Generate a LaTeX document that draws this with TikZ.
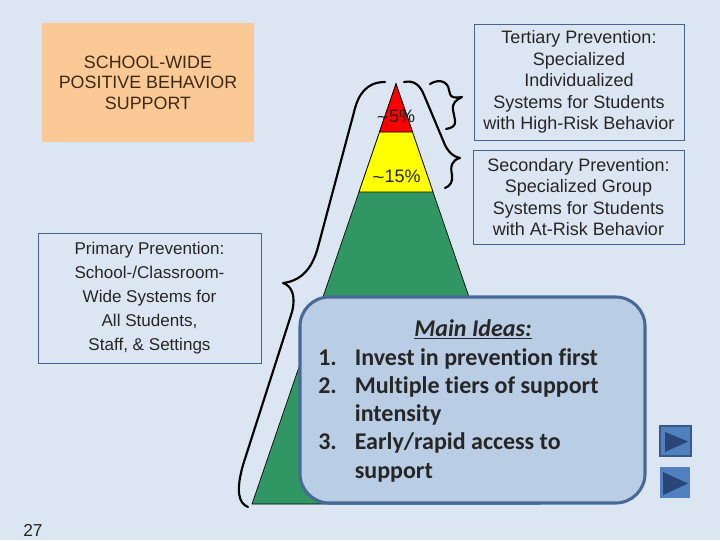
\documentclass[tikz,border=0pt]{standalone}
\usepackage{fontspec}
\setmainfont{Liberation Sans}
\newfontfamily\calib[Ligatures=CommonOff]{Carlito}
\definecolor{bg}{RGB}{220,230,242}
\definecolor{boxline}{RGB}{70,100,145}
\definecolor{txt}{RGB}{38,38,38}
\definecolor{orangebox}{RGB}{251,201,150}
\definecolor{orangetxt}{RGB}{60,42,20}
\definecolor{pgreen}{RGB}{48,150,100}
\definecolor{pred}{RGB}{255,0,0}
\definecolor{pyellow}{RGB}{255,255,0}
\definecolor{mainfill}{RGB}{185,205,229}
\definecolor{mainline}{RGB}{70,105,150}
\definecolor{navfill}{RGB}{80,128,190}
\definecolor{navborder}{RGB}{55,90,140}
\definecolor{navdark}{RGB}{40,70,120}
\newcommand{\midtilde}{\raisebox{-0.12ex}{\scalebox{1.15}[1]{\textasciitilde}}}
\begin{document}
\begin{tikzpicture}[x=0.75pt,y=-0.75pt,
  infobox/.style={draw=boxline, line width=0.75pt, fill=bg, align=center, text=txt, inner sep=0pt},
  bracepath/.style={draw=black, line width=1.6pt, line cap=round, line join=round},
  tier/.style={draw=black, line width=0.5pt},
  pct/.style={text=txt!90!black, font=\fontsize{13.5}{16}\selectfont, inner sep=0pt}]
\fill[bg] (0,0) rectangle (720,540);
\useasboundingbox (0,0) rectangle (720,540);

% header box
\node[fill=orangebox, minimum width=159pt, minimum height=89.25pt, align=center, text=orangetxt,
  font=\fontsize{13.4}{15.4}\selectfont] (swpbs) at (148,82.5) {SCHOOL-WIDE\\POSITIVE BEHAVIOR\\SUPPORT};

% primary box
\node[infobox, minimum width=167.25pt, minimum height=97.5pt, font=\fontsize{12.8}{18}\selectfont]
  (primary) at (149.5,298) {Primary Prevention:\\School-/Classroom-\\Wide Systems for\\All Students,\\Staff, \& Settings};

% tertiary and secondary boxes
\node[infobox, minimum width=157.5pt, minimum height=87pt, font=\fontsize{13.5}{16.1}\selectfont]
  (tertiary) at (579,82) {Tertiary Prevention:\\Specialized\\Individualized\\Systems for Students\\with High-Risk Behavior};
\node[infobox, minimum width=158.25pt, minimum height=70.5pt, font=\fontsize{13.5}{16.1}\selectfont]
  (secondary) at (578.5,197) {Secondary Prevention:\\Specialized Group\\Systems for Students\\with At-Risk Behavior};

% pyramid
\coordinate (apex) at (396,84);
\filldraw[tier, fill=pgreen] (apex) -- (252,504) -- (540,504) -- cycle;
\filldraw[tier, fill=pyellow] (apex) -- (359,192) -- (433,192) -- cycle;
\filldraw[tier, fill=pred] (apex) -- (379.5,132) -- (412.5,132) -- cycle;
\node[pct] (p5) at (396,117) {\midtilde5\%};
\node[pct] (p15) at (396.5,177) {\midtilde15\%};

% braces
\path[bracepath] (385,82) .. controls (366,82) and (358,95) .. (354,112) -- (318,247)
  .. controls (312,270) and (300,281) .. (283,283)
  .. controls (292,286) and (296,296) .. (292,312) -- (243,465)
  .. controls (236,490) and (238,503) .. (248,507);
\path[bracepath] (404,82) .. controls (414,80) and (420,85) .. (424,95) -- (445,145)
  .. controls (449,153) and (454,157) .. (460,158)
  .. controls (452,160) and (450,166) .. (452,175)
  .. controls (453,182) and (450,186) .. (445,188);
\path[bracepath] (430,84) .. controls (440,78) and (448,82) .. (449,90) -- (450,94)
  .. controls (451,98) and (456,98) .. (462,97)
  .. controls (456,100) and (452,103) .. (453,110) -- (455,120)
  .. controls (456,126) and (452,128) .. (446,129);

% main ideas box
\node[draw=mainline, fill=mainfill, line width=2.3pt, rounded corners=22pt,
  minimum width=258.75pt, minimum height=154.5pt] (mainbox) at (472.5,400) {};
\node[anchor=base, inner sep=0pt, text=txt, font=\calib\bfseries\itshape\fontsize{18}{21.2}\selectfont]
  (title) at (473,336) {\underline{Main Ideas:}};
\node[anchor=base west, inner sep=0pt, text=txt, font=\calib\bfseries\fontsize{18}{21.2}\selectfont]
  (ideas) at (318,365) {\begin{tabular}[t]{@{}r@{\hspace{13.5pt}}l@{}}
  1. & Invest in prevention first\\
  2. & Multiple tiers of support\\
     & intensity\\
  3. & Early/rapid access to\\
     & support
  \end{tabular}};

% nav buttons
\node[fill=navfill, draw=navborder, line width=1.5pt, minimum width=23pt, minimum height=22.5pt, inner sep=0pt] (nav1) at (675.5,441) {};
\fill[navdark] (665,432) -- (688,441.5) -- (665,452) -- cycle;
\node[fill=navfill, minimum width=22.5pt, minimum height=23.25pt, inner sep=0pt] (nav2) at (675,482.5) {};
\fill[navdark] (663,472) -- (688,483.5) -- (663,495) -- cycle;

% page number
\node[text=txt, font=\fontsize{13}{15}\selectfont, inner sep=0pt] (pg) at (33,530) {27};
\end{tikzpicture}
\end{document}
